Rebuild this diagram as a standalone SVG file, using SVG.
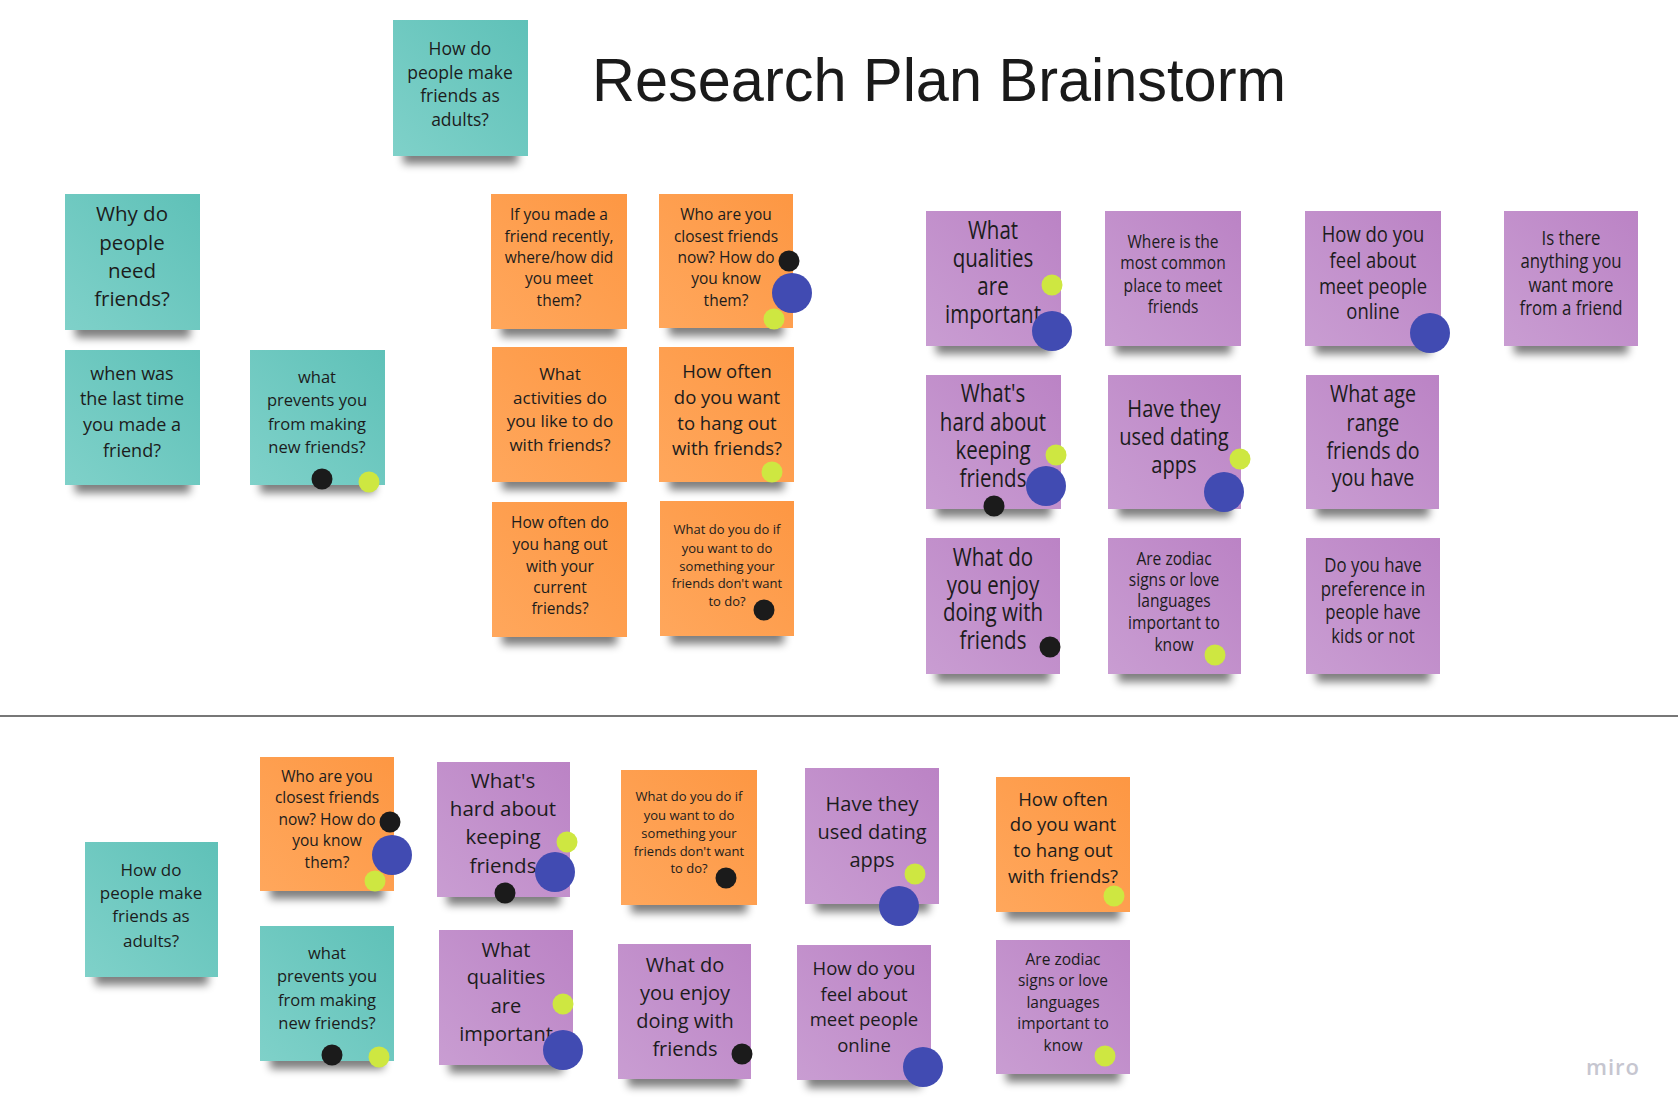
<svg xmlns="http://www.w3.org/2000/svg" width="1678" height="1114" viewBox="0 0 1678 1114">
<defs>
<linearGradient id="gT" x1="1" y1="0" x2="0" y2="1"><stop offset="0" stop-color="#5fc1b8"/><stop offset="1" stop-color="#7fd1c9"/></linearGradient>
<linearGradient id="gO" x1="1" y1="0" x2="0" y2="1"><stop offset="0" stop-color="#fd9743"/><stop offset="1" stop-color="#ffa75c"/></linearGradient>
<linearGradient id="gP" x1="1" y1="0" x2="0" y2="1"><stop offset="0" stop-color="#bb83c5"/><stop offset="1" stop-color="#c99dd2"/></linearGradient>
<filter id="blur" x="-20%" y="-50%" width="140%" height="200%"><feGaussianBlur stdDeviation="4"/></filter>
</defs>
<style>
.t{font-family:"Open Sans",sans-serif;fill:#1c1c1c;text-anchor:middle}
.tl{fill:url(#gT)}.or{fill:url(#gO)}.pu{fill:url(#gP)}
.sh{fill:#000;opacity:.5;filter:url(#blur)}
.dk{fill:#1b1b1b}.bl{fill:#414bb2}.yl{fill:#cee741}
</style>
<rect width="1678" height="1114" fill="#ffffff"/>
<text x="939" y="101" font-family="'Liberation Sans',Arial,sans-serif" font-size="62" fill="#1a1a1a" text-anchor="middle" textLength="694" lengthAdjust="spacingAndGlyphs">Research Plan Brainstorm</text>
<line x1="0" y1="716" x2="1678" y2="716" stroke="#4a4a4a" stroke-width="1.5"/>
<g id="connectors"></g>

<g id="nA"><rect class="sh" x="403" y="140" width="115" height="24"/><rect class="tl" x="393" y="20" width="135" height="136"/>
<text class="t" font-size="17.5"><tspan x="460" y="55">How do</tspan><tspan x="460" y="79">people make</tspan><tspan x="460" y="102">friends as</tspan><tspan x="460" y="126">adults?</tspan></text></g>

<g id="nB"><rect class="sh" x="75" y="314" width="115" height="24"/><rect class="tl" x="65" y="194" width="135" height="136"/>
<text class="t" font-size="20.5"><tspan x="132" y="221">Why do</tspan><tspan x="132" y="250">people</tspan><tspan x="132" y="278">need</tspan><tspan x="132" y="306">friends?</tspan></text></g>

<g id="nC"><rect class="sh" x="75" y="469" width="115" height="24"/><rect class="tl" x="65" y="350" width="135" height="135"/>
<text class="t" font-size="18"><tspan x="132" y="380">when was</tspan><tspan x="132" y="405">the last time</tspan><tspan x="132" y="431">you made a</tspan><tspan x="132" y="457">friend?</tspan></text></g>

<g id="nD"><rect class="sh" x="260" y="469" width="115" height="24"/><rect class="tl" x="250" y="350" width="135" height="135"/>
<text class="t" font-size="16.5"><tspan x="317" y="383">what</tspan><tspan x="317" y="406">prevents you</tspan><tspan x="317" y="430">from making</tspan><tspan x="317" y="453">new friends?</tspan></text>
<circle class="dk" cx="322" cy="479" r="10.5"/><circle class="yl" cx="369" cy="482" r="10.5"/></g>

<g id="nE"><rect class="sh" x="501" y="313" width="116" height="24"/><rect class="or" x="491" y="194" width="136" height="135"/>
<text class="t" font-size="15.5"><tspan x="559" y="220">If you made a</tspan><tspan x="559" y="242">friend recently,</tspan><tspan x="559" y="263">where/how did</tspan><tspan x="559" y="284">you meet</tspan><tspan x="559" y="306">them?</tspan></text></g>

<g id="nF"><rect class="sh" x="669" y="312" width="114" height="24"/><rect class="or" x="659" y="194" width="134" height="134"/>
<text class="t" font-size="15.5"><tspan x="726" y="220">Who are you</tspan><tspan x="726" y="242">closest friends</tspan><tspan x="726" y="263">now? How do</tspan><tspan x="726" y="284">you know</tspan><tspan x="726" y="306">them?</tspan></text>
<circle class="yl" cx="774" cy="319" r="10.5"/><circle class="dk" cx="789" cy="261" r="10.5"/><circle class="bl" cx="792" cy="293" r="20"/></g>

<g id="nG"><rect class="sh" x="502" y="466" width="115" height="24"/><rect class="or" x="492" y="347" width="135" height="135"/>
<text class="t" font-size="17"><tspan x="560" y="380">What</tspan><tspan x="560" y="404">activities do</tspan><tspan x="560" y="427">you like to do</tspan><tspan x="560" y="451">with friends?</tspan></text></g>

<g id="nH"><rect class="sh" x="669" y="466" width="115" height="24"/><rect class="or" x="659" y="347" width="135" height="135"/>
<text class="t" font-size="18.5"><tspan x="727" y="378">How often</tspan><tspan x="727" y="404">do you want</tspan><tspan x="727" y="430">to hang out</tspan><tspan x="727" y="455">with friends?</tspan></text>
<circle class="yl" cx="772" cy="472" r="10.5"/></g>

<g id="nI"><rect class="sh" x="502" y="621" width="115" height="24"/><rect class="or" x="492" y="502" width="135" height="135"/>
<text class="t" font-size="15.5"><tspan x="560" y="528">How often do</tspan><tspan x="560" y="550">you hang out</tspan><tspan x="560" y="572">with your</tspan><tspan x="560" y="593">current</tspan><tspan x="560" y="614">friends?</tspan></text></g>

<g id="nJ"><rect class="sh" x="670" y="620" width="114" height="24"/><rect class="or" x="660" y="501" width="134" height="135"/>
<text class="t" font-size="13"><tspan x="727" y="534">What do you do if</tspan><tspan x="727" y="553">you want to do</tspan><tspan x="727" y="571">something your</tspan><tspan x="727" y="588">friends don't want</tspan><tspan x="727" y="606">to do?</tspan></text>
<circle class="dk" cx="764" cy="610" r="10.5"/></g>

<g id="nK"><rect class="sh" x="936" y="330" width="115" height="24"/><rect class="pu" x="926" y="211" width="135" height="135"/>
<text class="t" font-size="25" transform="matrix(0.82 0 0 1 993 0)"><tspan x="0" y="239">What</tspan><tspan x="0" y="267">qualities</tspan><tspan x="0" y="295">are</tspan><tspan x="0" y="323">important</tspan></text>
<circle class="yl" cx="1052" cy="285" r="10.5"/><circle class="bl" cx="1052" cy="331" r="20"/></g>

<g id="nL"><rect class="sh" x="1115" y="330" width="116" height="24"/><rect class="pu" x="1105" y="211" width="136" height="135"/>
<text class="t" font-size="19" transform="matrix(0.82 0 0 1 1173 0)"><tspan x="0" y="248">Where is the</tspan><tspan x="0" y="269">most common</tspan><tspan x="0" y="292">place to meet</tspan><tspan x="0" y="313">friends</tspan></text></g>

<g id="nM"><rect class="sh" x="1315" y="330" width="116" height="24"/><rect class="pu" x="1305" y="211" width="136" height="135"/>
<text class="t" font-size="22.5" transform="matrix(0.82 0 0 1 1373 0)"><tspan x="0" y="242">How do you</tspan><tspan x="0" y="268">feel about</tspan><tspan x="0" y="294">meet people</tspan><tspan x="0" y="319">online</tspan></text>
<circle class="bl" cx="1430" cy="333" r="20"/></g>

<g id="nN"><rect class="sh" x="1514" y="330" width="114" height="24"/><rect class="pu" x="1504" y="211" width="134" height="135"/>
<text class="t" font-size="20.5" transform="matrix(0.82 0 0 1 1571 0)"><tspan x="0" y="245">Is there</tspan><tspan x="0" y="268">anything you</tspan><tspan x="0" y="292">want more</tspan><tspan x="0" y="315">from a friend</tspan></text></g>

<g id="nO"><rect class="sh" x="936" y="493" width="115" height="24"/><rect class="pu" x="926" y="375" width="135" height="134"/>
<text class="t" font-size="25" transform="matrix(0.82 0 0 1 993 0)"><tspan x="0" y="402">What's</tspan><tspan x="0" y="431">hard about</tspan><tspan x="0" y="459">keeping</tspan><tspan x="0" y="487">friends</tspan></text>
<circle class="yl" cx="1056" cy="455" r="10.5"/><circle class="bl" cx="1046" cy="486" r="20"/><circle class="dk" cx="994" cy="506" r="10.5"/></g>

<g id="nP"><rect class="sh" x="1118" y="493" width="113" height="24"/><rect class="pu" x="1108" y="375" width="133" height="134"/>
<text class="t" font-size="24.5" transform="matrix(0.82 0 0 1 1174 0)"><tspan x="0" y="417">Have they</tspan><tspan x="0" y="445">used dating</tspan><tspan x="0" y="473">apps</tspan></text>
<circle class="yl" cx="1240" cy="459" r="10.5"/><circle class="bl" cx="1224" cy="492" r="20"/></g>

<g id="nQ"><rect class="sh" x="1316" y="493" width="113" height="24"/><rect class="pu" x="1306" y="375" width="133" height="134"/>
<text class="t" font-size="24" transform="matrix(0.82 0 0 1 1373 0)"><tspan x="0" y="402">What age</tspan><tspan x="0" y="431">range</tspan><tspan x="0" y="459">friends do</tspan><tspan x="0" y="486">you have</tspan></text></g>

<g id="nR"><rect class="sh" x="936" y="658" width="114" height="24"/><rect class="pu" x="926" y="538" width="134" height="136"/>
<text class="t" font-size="25" transform="matrix(0.82 0 0 1 993 0)"><tspan x="0" y="566">What do</tspan><tspan x="0" y="594">you enjoy</tspan><tspan x="0" y="621">doing with</tspan><tspan x="0" y="649">friends</tspan></text>
<circle class="dk" cx="1050" cy="647" r="10.5"/></g>

<g id="nS"><rect class="sh" x="1118" y="658" width="113" height="24"/><rect class="pu" x="1108" y="538" width="133" height="136"/>
<text class="t" font-size="19" transform="matrix(0.82 0 0 1 1174 0)"><tspan x="0" y="565">Are zodiac</tspan><tspan x="0" y="586">signs or love</tspan><tspan x="0" y="607">languages</tspan><tspan x="0" y="629">important to</tspan><tspan x="0" y="651">know</tspan></text>
<circle class="yl" cx="1215" cy="655" r="10.5"/></g>

<g id="nT"><rect class="sh" x="1316" y="658" width="114" height="24"/><rect class="pu" x="1306" y="538" width="134" height="136"/>
<text class="t" font-size="20.5" transform="matrix(0.82 0 0 1 1373 0)"><tspan x="0" y="572">Do you have</tspan><tspan x="0" y="596">preference in</tspan><tspan x="0" y="619">people have</tspan><tspan x="0" y="643">kids or not</tspan></text></g>

<g id="nU"><rect class="sh" x="95" y="961" width="113" height="24"/><rect class="tl" x="85" y="842" width="133" height="135"/>
<text class="t" font-size="17"><tspan x="151" y="876">How do</tspan><tspan x="151" y="899">people make</tspan><tspan x="151" y="922">friends as</tspan><tspan x="151" y="947">adults?</tspan></text></g>

<g id="nV"><rect class="sh" x="270" y="875" width="114" height="24"/><rect class="or" x="260" y="757" width="134" height="134"/>
<text class="t" font-size="15.5"><tspan x="327" y="782">Who are you</tspan><tspan x="327" y="803">closest friends</tspan><tspan x="327" y="825">now? How do</tspan><tspan x="327" y="846">you know</tspan><tspan x="327" y="868">them?</tspan></text>
<circle class="yl" cx="375" cy="881" r="10.5"/><circle class="dk" cx="390" cy="822" r="10.5"/><circle class="bl" cx="392" cy="855" r="20"/></g>

<g id="nW"><rect class="sh" x="270" y="1045" width="114" height="24"/><rect class="tl" x="260" y="926" width="134" height="135"/>
<text class="t" font-size="16.5"><tspan x="327" y="959">what</tspan><tspan x="327" y="982">prevents you</tspan><tspan x="327" y="1006">from making</tspan><tspan x="327" y="1029">new friends?</tspan></text>
<circle class="dk" cx="332" cy="1055" r="10.5"/><circle class="yl" cx="379" cy="1057" r="10.5"/></g>

<g id="nX"><rect class="sh" x="447" y="881" width="113" height="24"/><rect class="pu" x="437" y="762" width="133" height="135"/>
<text class="t" font-size="20.5"><tspan x="503" y="788">What's</tspan><tspan x="503" y="816">hard about</tspan><tspan x="503" y="844">keeping</tspan><tspan x="503" y="873">friends</tspan></text>
<circle class="yl" cx="567" cy="842" r="10.5"/><circle class="bl" cx="555" cy="872" r="20"/><circle class="dk" cx="505" cy="893" r="10.5"/></g>

<g id="nY"><rect class="sh" x="449" y="1049" width="114" height="24"/><rect class="pu" x="439" y="930" width="134" height="135"/>
<text class="t" font-size="20"><tspan x="506" y="957">What</tspan><tspan x="506" y="984">qualities</tspan><tspan x="506" y="1013">are</tspan><tspan x="506" y="1041">important</tspan></text>
<circle class="yl" cx="563" cy="1004" r="10.5"/><circle class="bl" cx="563" cy="1050" r="20"/></g>

<g id="nZ"><rect class="sh" x="631" y="889" width="116" height="24"/><rect class="or" x="621" y="770" width="136" height="135"/>
<text class="t" font-size="13"><tspan x="689" y="801">What do you do if</tspan><tspan x="689" y="820">you want to do</tspan><tspan x="689" y="838">something your</tspan><tspan x="689" y="856">friends don't want</tspan><tspan x="689" y="873">to do?</tspan></text>
<circle class="dk" cx="726" cy="878" r="10.5"/></g>

<g id="nAA"><rect class="sh" x="628" y="1063" width="113" height="24"/><rect class="pu" x="618" y="944" width="133" height="135"/>
<text class="t" font-size="20"><tspan x="685" y="972">What do</tspan><tspan x="685" y="1000">you enjoy</tspan><tspan x="685" y="1028">doing with</tspan><tspan x="685" y="1056">friends</tspan></text>
<circle class="dk" cx="742" cy="1054" r="10.5"/></g>

<g id="nAB"><rect class="sh" x="815" y="888" width="114" height="24"/><rect class="pu" x="805" y="768" width="134" height="136"/>
<text class="t" font-size="20"><tspan x="872" y="811">Have they</tspan><tspan x="872" y="839">used dating</tspan><tspan x="872" y="867">apps</tspan></text>
<circle class="yl" cx="915" cy="874" r="10.5"/><circle class="bl" cx="899" cy="906" r="20"/></g>

<g id="nAC"><rect class="sh" x="807" y="1064" width="114" height="24"/><rect class="pu" x="797" y="945" width="134" height="135"/>
<text class="t" font-size="18.5"><tspan x="864" y="975">How do you</tspan><tspan x="864" y="1001">feel about</tspan><tspan x="864" y="1026">meet people</tspan><tspan x="864" y="1052">online</tspan></text>
<circle class="bl" cx="923" cy="1067" r="20"/></g>

<g id="nAD"><rect class="sh" x="1006" y="896" width="114" height="24"/><rect class="or" x="996" y="777" width="134" height="135"/>
<text class="t" font-size="18.5"><tspan x="1063" y="806">How often</tspan><tspan x="1063" y="831">do you want</tspan><tspan x="1063" y="857">to hang out</tspan><tspan x="1063" y="883">with friends?</tspan></text>
<circle class="yl" cx="1114" cy="896" r="10.5"/></g>

<g id="nAE"><rect class="sh" x="1006" y="1058" width="114" height="24"/><rect class="pu" x="996" y="940" width="134" height="134"/>
<text class="t" font-size="15.5"><tspan x="1063" y="965">Are zodiac</tspan><tspan x="1063" y="986">signs or love</tspan><tspan x="1063" y="1008">languages</tspan><tspan x="1063" y="1029">important to</tspan><tspan x="1063" y="1051">know</tspan></text>
<circle class="yl" cx="1105" cy="1056" r="10.5"/></g>

<text x="1613" y="1075" font-family="'Open Sans',sans-serif" font-weight="600" font-size="22" letter-spacing="1" fill="#c6c6d0" text-anchor="middle">miro</text>
</svg>
